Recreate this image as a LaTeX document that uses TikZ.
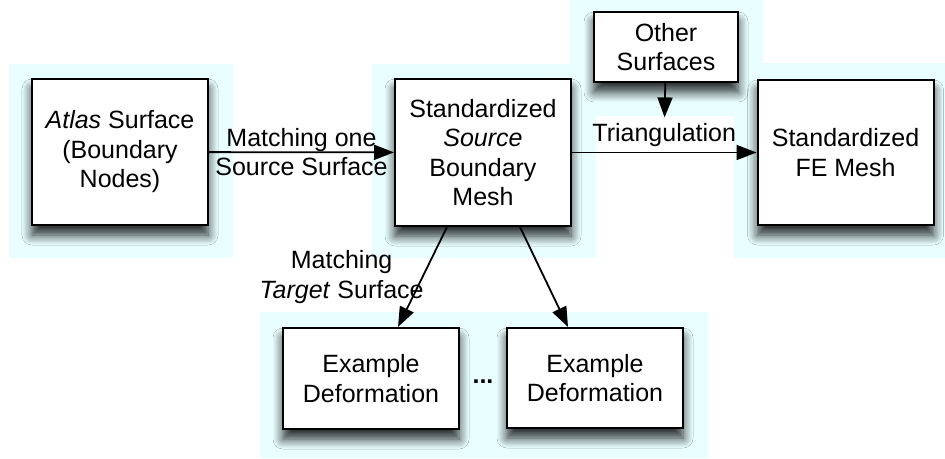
\documentclass[tikz,border=0pt]{standalone}
\usepackage{fontspec}
\setmainfont{Liberation Sans}
\usetikzlibrary{arrows.meta,shadows.blur,calc}
\definecolor{glowcyan}{RGB}{232,254,255}
\begin{document}
\begin{tikzpicture}[
  x=0.5pt, y=-0.5pt,
  font=\fontsize{12.5}{14.75}\selectfont,
  glow/.style={fill=glowcyan, draw=none},
  box/.style={
    draw,
    line width=1pt,
    fill=white,
    align=center,
    inner sep=0pt,
    minimum width=88pt,
    blur shadow={shadow xshift=0pt, shadow yshift=-5pt, shadow blur radius=5pt,
      shadow blur steps=8, shadow opacity=85}
  },
  link/.style={line width=0.9pt, -{Triangle[length=10pt,width=7.5pt]}}
]
\useasboundingbox (0,0) rectangle (945,459);
% light halos behind the boxes
\fill[glow] (9,64) rectangle (233,258);
\fill[glow] (372,64) rectangle (596,258);
\fill[glow] (570,0) rectangle (763,116);
\fill[glow] (734,63) rectangle (945,258);
\fill[glow] (260,312) rectangle (708,458);

\node[box, minimum height=73pt] (atlas) at (120,152) {\textit{Atlas} Surface\\(Boundary\\Nodes)};
\node[box, minimum height=73.5pt] (source) at (483,152.5) {Standardized\\\textit{Source}\\Boundary\\Mesh};
\node[box, minimum width=72pt, minimum height=35pt] (other) at (666,47) {Other\\Surfaces};
\node[box, minimum height=72.5pt] (fe) at (845.5,152.5) {Standardized\\FE Mesh};
\node[box, minimum height=50.5pt] (ex1) at (371,378.5) {Example\\Deformation};
\node[box, minimum height=50pt] (ex2) at (595,378) {Example\\Deformation};
\node[inner sep=0pt, font=\fontsize{12.5}{14.75}\selectfont\bfseries] (dots) at ($(ex1)!0.5!(ex2)+(0,3)$) {...};

\draw[link] (atlas) -- node[align=center] {Matching one\\Source Surface} (source);
\draw[link] (source) -- node[above, inner sep=2.5pt] (tri) {Triangulation} (fe);
\draw[link] (other) -- (tri);
\draw[link] ([xshift=-18pt]source.south) -- node[align=center, anchor=east, inner sep=0pt, xshift=1pt] {Matching\\\textit{Target} Surface} ([xshift=13.5pt]ex1.north);
\draw[link] ([xshift=18.5pt]source.south) -- ([xshift=-13.5pt]ex2.north);
\end{tikzpicture}
\end{document}
